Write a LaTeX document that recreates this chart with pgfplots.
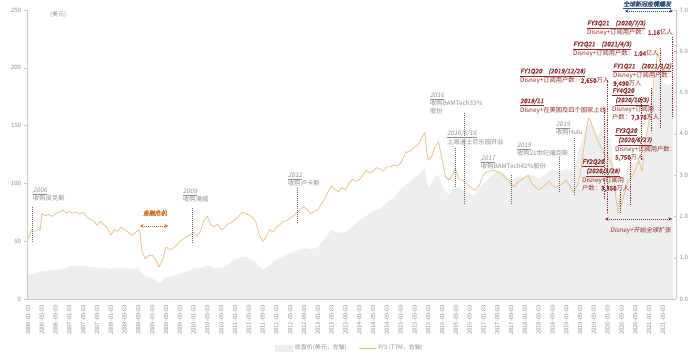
\documentclass[border=0pt]{standalone}
\usepackage{fontspec}
\setmainfont{Noto Sans CJK SC}[AutoFakeSlant=0.2,AutoFakeBold=1.5]
\usepackage{pgfplots}
\pgfplotsset{compat=1.18}
\usetikzlibrary{arrows.meta}
\definecolor{psline}{HTML}{E6BC85}
\definecolor{pricegray}{HTML}{EEEEEE}
\definecolor{annogray}{HTML}{8A8A8A}
\definecolor{darkred}{HTML}{8B2A2A}
\definecolor{crisis}{HTML}{D2691E}
\definecolor{covidblue}{HTML}{2F4F7F}
\definecolor{axisgray}{HTML}{C8C8C8}
\definecolor{ticktext}{HTML}{8C8C8C}

\pgfplotstableread{
m ps
0 1.46
0.5 1.55
1 1.68
2 1.64
3 1.68
3.5 1.66
4 2.07
5 2.02
6 2.05
7 2.0
8 2.07
9 2.1
10 2.16
11 2.08
12 2.12
13 2.08
14 2.1
15 2.06
16 2.1
17 1.99
18 1.93
19 1.9
20 1.79
21 1.88
22 1.8
23 1.72
24 1.55
25 1.68
26 1.64
27 1.74
28 1.68
29 1.62
30 1.54
31 1.6
32 1.68
32.5 1.6
33 1.15
33.5 1.05
34 0.98
35 1.05
36 1.06
37 0.95
38 0.78
39 0.95
40 1.26
41 1.2
42 1.23
43 1.3
44 1.4
45 1.45
46 1.51
47 1.55
48 1.62
49 1.52
50 1.65
51 1.9
52 2.0
53 1.79
54 1.75
55 1.82
56 1.68
57 1.72
58 1.82
59 1.85
60 1.93
61 2.0
62 2.1
63 2.07
64 2.04
65 1.98
66 1.88
67 1.55
68 1.4
69 1.5
70 1.68
71 1.62
72 1.74
73 1.8
74 1.88
75 1.9
76 1.96
77 2.02
78 2.1
79 2.18
80 2.24
81 2.15
82 2.07
83 2.12
84 2.16
85 2.3
86 2.44
87 2.6
88 2.74
89 2.65
90 2.6
91 2.7
92 2.64
93 2.8
94 2.9
95 2.85
96 2.88
97 3.0
98 3.12
99 3.05
100 3.1
101 3.18
102 3.15
103 3.1
104 3.2
105 3.2
106 3.25
107 3.22
108 3.29
109 3.45
109.5 3.57
110 3.55
111 3.6
112 3.68
113 3.73
114 3.89
115 4.03
115.5 3.6
116 3.37
117 3.45
118 3.69
119 3.8
120 3.37
121 2.96
122 2.88
123 3.0
123.8 3.17
124.5 3.0
125 2.9
126 2.88
127 2.8
128 2.72
129 2.66
130 2.64
131 2.8
132 3.0
133 3.08
134 3.1
135 3.12
136 3.08
137 3.05
138 2.96
139 2.9
140 2.78
141 2.72
142 2.85
143 2.88
144 2.95
145 3.0
146 2.8
147 2.72
148 2.64
149 2.7
150 2.78
151 2.85
152 2.75
153 2.7
154 2.75
155 2.8
156 2.88
157 2.75
158 2.6
159 2.72
160 3.0
161 3.6
162 4.2
162.5 4.38
163 4.3
164 4.1
165 3.85
166 3.69
167 3.5
168 3.45
169 3.3
169.8 3.1
170.3 2.5
171 2.08
171.5 2.4
172 2.3
173 2.6
174 2.88
175 2.95
176 3.12
177 3.35
178 3.1
179 3.85
180 4.33
180.7 4.82
181.5 5.38
182.5 5.95
183 5.8
184 5.5
185 5.6
186 5.5
187 5.55
}\pstable

\pgfplotstableread{
m price
0 21
2 22
4 24
6 24.5
8 25
10 26
12 28
14 29
16 28.5
18 28
20 27
22 27
24 26
26 27
28 27
30 26
32 27
33 22
34 20
35 19
36 18
37 16
38 13.5
39 16
40 19
42 20
44 22
46 24
48 26.5
50 27
52 29
54 27
56 27
58 30
60 34
62 36.5
64 36
66 32
67 28
68 26
70 29
72 34
74 37
76 39.5
78 42
80 44
82 43
84 45
86 52
88 60
90 57
92 58
94 62
96 68
98 72
100 76
102 78
104 83
106 88
108 95
110 100
112 105
114 110
115 114
116 96
117 100
118 106
119 107
120 98
121 93
122 90
123 95
124 96
125 97
126 94
128 92
129 89
130 92
132 100
134 105
136 111
138 108
140 103
142 106
144 105
146 108
148 104
150 108
152 112
154 110
156 113
158 108
160 133
161 140
162 150
163 152
164 146
165 141
166 145
167 142
168 140
169 138
170 100
171 90
172 100
173 108
174 116
175 118
176 118
177 120
178 124
179 135
180 160
181 176
182 192
183 200
184 188
185 185
186 186
187 188
}\pricetable

\begin{document}
\begin{tikzpicture}
\useasboundingbox (-27bp,-58bp) rectangle (673bp,299bp);
\begin{axis}[
  scale only axis, width=649bp, height=289bp,
  at={(0,0)}, anchor=south west,
  xmin=-0.29, xmax=187.8, ymin=0, ymax=250,
  axis x line*=bottom, axis y line*=left,
  axis line style={draw=axisgray, line width=0.6pt},
  ytick={0,50,...,250},
  yticklabel style={font=\fontsize{6}{6}\selectfont, text=ticktext},
  xtick={0,4,...,184},
  xticklabels={2006-01-03,2006-05-03,2006-09-03,2007-01-03,2007-05-03,2007-09-03,2008-01-03,2008-05-03,2008-09-03,2009-01-03,2009-05-03,2009-09-03,2010-01-03,2010-05-03,2010-09-03,2011-01-03,2011-05-03,2011-09-03,2012-01-03,2012-05-03,2012-09-03,2013-01-03,2013-05-03,2013-09-03,2014-01-03,2014-05-03,2014-09-03,2015-01-03,2015-05-03,2015-09-03,2016-01-03,2016-05-03,2016-09-03,2017-01-03,2017-05-03,2017-09-03,2018-01-03,2018-05-03,2018-09-03,2019-01-03,2019-05-03,2019-09-03,2020-01-03,2020-05-03,2020-09-03,2021-01-03,2021-05-03},
  x tick label style={rotate=90, anchor=east, font=\fontsize{5.8}{6}\selectfont, text=ticktext},
  x tick style={draw=none},
  y tick style={draw=axisgray},
  major tick length=2.5bp, tick align=outside,
  /pgf/number format/assume math mode=true,
]
\addplot[fill=pricegray, draw=none] table[x=m, y=price] {\pricetable} \closedcycle;
\end{axis}
\begin{axis}[
  scale only axis, width=649bp, height=289bp,
  at={(0,0)}, anchor=south west,
  xmin=-0.29, xmax=187.8, ymin=0, ymax=7,
  axis x line=none, axis y line*=right,
  axis line style={draw=axisgray, line width=0.6pt},
  ytick={0,1,...,7},
  yticklabels={0.0,1.0,2.0,3.0,4.0,5.0,6.0,7.0},
  yticklabel style={font=\fontsize{6}{6}\selectfont, text=ticktext},
  y tick style={draw=axisgray},
  major tick length=2.5bp, tick align=inside,
  /pgf/number format/assume math mode=true,
  legend style={at={(0.498,-0.17)}, anchor=center, draw=none, fill=none,
    legend columns=2, font=\fontsize{6}{7}\selectfont, text=ticktext,
    /tikz/every even column/.append style={column sep=10bp}},
  legend cell align=left,
]
\addlegendimage{area legend, fill=pricegray, draw=pricegray}
\addlegendentry{收盘价(美元，左轴)}
\addplot[psline, line width=0.7pt] table[x=m, y=ps] {\pstable};
\addlegendentry{P/S (TTM，右轴)}
\end{axis}

\begin{scope}[x=1bp, y=-1bp, shift={(-27bp,299bp)},
  ag/.style={font=\fontsize{6.3}{8}\selectfont, text=annogray, anchor=north west, inner sep=0pt, align=left},
  ar/.style={font=\fontsize{6.3}{8}\selectfont, text=darkred, anchor=north west, inner sep=0pt, align=left},
  dg/.style={draw=gray!80!black, line width=0.5pt, dash pattern=on 1pt off 1pt},
  dr/.style={draw=darkred, line width=0.6pt, dash pattern=on 1.2pt off 1pt}]
\node[font=\fontsize{6}{6}\selectfont, text=ticktext, anchor=north west, inner sep=0pt] at (50,11) {(美元)};
% grey annotations
\node[ag] at (33,188) {\underline{\textit{2006}}\\收购皮克斯};
\draw[dg] (32,207) -- (32,242);
\node[ag] at (183,189) {\underline{\textit{2009}}\\收购漫威};
\draw[dg] (192,208) -- (192,243);
\node[ag] at (288,173) {\underline{\textit{2012}}\\收购卢卡斯};
\draw[dg] (297,188) -- (297,222);
\node[ag] at (430,93) {\underline{\textit{2016}}\\收购BAMTech33\%\\股份};
\draw[dg] (464,113) -- (464,203);
\node[ag] at (447,130) {\underline{\textit{2016/6/16}}\\上海迪士尼乐园开业};
\draw[dg] (455,148) -- (455,187);
\node[ag] at (481,156) {\underline{\textit{2017}}\\收购BAMTech42\%股份};
\draw[dg] (511,175) -- (511,203);
\node[ag] at (517,143) {\underline{\textit{2019}}\\收购21世纪福克斯};
\draw[dg] (559,157) -- (559,192);
\node[ag] at (556,122) {\underline{\textit{2019}}\\收购Hulu};
\draw[dg] (574,138) -- (574,195);
% financial crisis
\node[font=\bfseries\itshape\fontsize{6}{6}\selectfont, text=crisis, inner sep=0pt] at (155,213) {金融危机};
\draw[crisis, line width=0.7pt, dash pattern=on 1pt off 1pt, {Stealth[length=3.5bp,width=3.5bp]}-{Stealth[length=3.5bp,width=3.5bp]}] (140,226) -- (168,226);
% Disney+ annotations
\node[ar] at (520,98) {\underline{\textbf{\textit{2019/11}}}\\Disney+在美国及四个国家上线};
\draw[dr] (604,108) -- (604,200);
\node[ar] at (520,68) {\underline{\textbf{\textit{FY1Q20\quad(2019/12/28)}}}\\Disney+订阅用户数：\textbf{2,650}万人};
\draw[dr] (607,80) -- (607,212);
\node[ar] at (582,159) {\underline{\textbf{\textit{FY2Q20}}}\\\hspace*{4bp}\underline{\textbf{\textit{(2020/3/28)}}}\\Disney+订阅用\\户数：\textbf{3,350}万人};
\draw[dr] (620,190) -- (620,212);
\node[ar] at (615,128) {\underline{\textbf{\textit{FY3Q20}}}\\\hspace*{3bp}\underline{\textbf{\textit{(2020/6/27)}}}\\Disney+订阅用户数：\\\textbf{5,750}万人};
\draw[dr] (630,158) -- (630,205);
\node[ar] at (612,88) {\underline{\textbf{\textit{FY4Q20}}}\\\hspace*{3bp}\underline{\textbf{\textit{(2020/10/3)}}}\\Disney+订阅用\\户数：\textbf{7,370}万人};
\draw[dr] (641,97) -- (641,160);
\node[ar] at (613,63) {\underline{\textbf{\textit{FY1Q21\quad(2021/1/2)}}}\\Disney+订阅用户数：\\\textbf{9,490}万人};
\draw[dr] (651,88) -- (651,130);
\node[ar] at (573,41) {\underline{\textbf{\textit{FY2Q21\quad(2021/4/3)}}}\\Disney+订阅用户数：\textbf{1.04}亿人};
\draw[dr] (660,48) -- (660,127);
\node[ar] at (587,20) {\underline{\textbf{\textit{FY3Q21\quad(2020/7/3)}}}\\Disney+订阅用户数：\textbf{1.16}亿人};
\draw[dr] (672,37) -- (672,117);
% covid
\node[font=\bfseries\itshape\fontsize{6}{6}\selectfont, text=covidblue, anchor=north west, inner sep=0pt] at (623,1) {\underline{全球新冠疫情爆发}};
\draw[covidblue, line width=0.7pt, dash pattern=on 1pt off 1pt, {Stealth[length=3.5bp,width=3.5bp]}-{Stealth[length=3.5bp,width=3.5bp]}] (625,11) -- (673,11);
% global expansion
\draw[darkred, line width=0.7pt, dash pattern=on 1pt off 1pt, {Stealth[length=3.5bp,width=3.5bp]}-{Stealth[length=3.5bp,width=3.5bp]}] (605,219) -- (672,219);
\node[font=\itshape\fontsize{6.3}{6}\selectfont, text=darkred, anchor=north west, inner sep=0pt] at (610,227) {Disney+开始全球扩张};
\end{scope}
\end{tikzpicture}
\end{document}
